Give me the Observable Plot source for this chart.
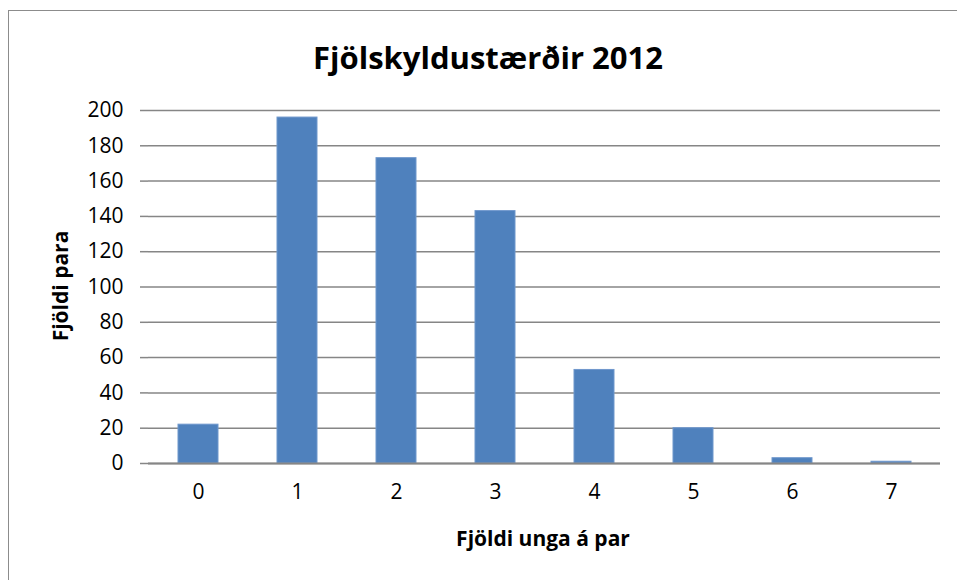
<!DOCTYPE html>
<html>
<head>
<meta charset="utf-8">
<script src="https://cdn.jsdelivr.net/npm/d3@7"></script>
<script src="https://cdn.jsdelivr.net/npm/@observablehq/plot@0.6"></script>
<style>
  html, body { margin: 0; padding: 0; background: #fff; }
  #wrap { position: relative; width: 957px; height: 580px; overflow: hidden; font-family: "Open Sans", sans-serif; }
  #border { position: absolute; left: 8px; top: 10px; width: 1200px; height: 1200px; border: 1.5px solid #8c8c8c; box-sizing: border-box; }
  #chart { position: absolute; left: 0; top: 0; }
  #chart svg text { font-size: 21px !important; fill: #000; }
  .lbl { position: absolute; font-weight: bold; color: #000; white-space: nowrap; }
  #title { left: 488px; top: 57px; transform: translate(-50%, -50%); font-size: 31px; }
  #xtitle { left: 543px; top: 538px; transform: translate(-50%, -50%); font-size: 21px; }
  #ytitle { left: 60px; top: 286px; transform: translate(-50%, -50%) rotate(-90deg); font-size: 21px; }
</style>
</head>
<body>
<div id="wrap">
  <div id="border"></div>
  <div id="chart"></div>
  <div class="lbl" id="title">Fjölskyldustærðir 2012</div>
  <div class="lbl" id="xtitle">Fjöldi unga á par</div>
  <div class="lbl" id="ytitle">Fjöldi para</div>
</div>
<script>
const categories = ["0", "1", "2", "3", "4", "5", "6", "7"];
const counts = [22, 196, 173, 143, 53, 20, 3, 1];
const yTicks = [0, 20, 40, 60, 80, 100, 120, 140, 160, 180, 200];

const data = categories.map((c, i) => ({cat: c, n: counts[i]}));

const chart = Plot.plot({
  width: 957,
  height: 580,
  marginLeft: 148,
  marginRight: 17,
  marginTop: 110,
  marginBottom: 117,
  style: {fontFamily: "'Open Sans', sans-serif", color: "#000", background: "transparent"},
  x: {type: "band", domain: categories, paddingInner: 0.6, paddingOuter: 0.3, label: null},
  y: {domain: [0, 200], label: null},
  marks: [
    Plot.gridY(yTicks, {stroke: "#868686", strokeWidth: 1.5, strokeOpacity: 1}),
    Plot.barY(data, {x: "cat", y: "n", fill: "#4F81BD", stroke: "#6f97cc", strokeWidth: 1}),
    Plot.ruleY([0], {stroke: "#868686", strokeWidth: 2}),
    Plot.ruleX([0], {frameAnchor: "left", stroke: "#868686", strokeWidth: 1.5}),
    Plot.axisY(yTicks, {tickSize: 8, tickPadding: 17, stroke: "#868686", strokeWidth: 1.5, label: null, tickFormat: d => String(d)}),
    Plot.axisX({tickSize: 0, tickPadding: 21, label: null})
  ]
});
document.getElementById("chart").appendChild(chart);
</script>
</body>
</html>
